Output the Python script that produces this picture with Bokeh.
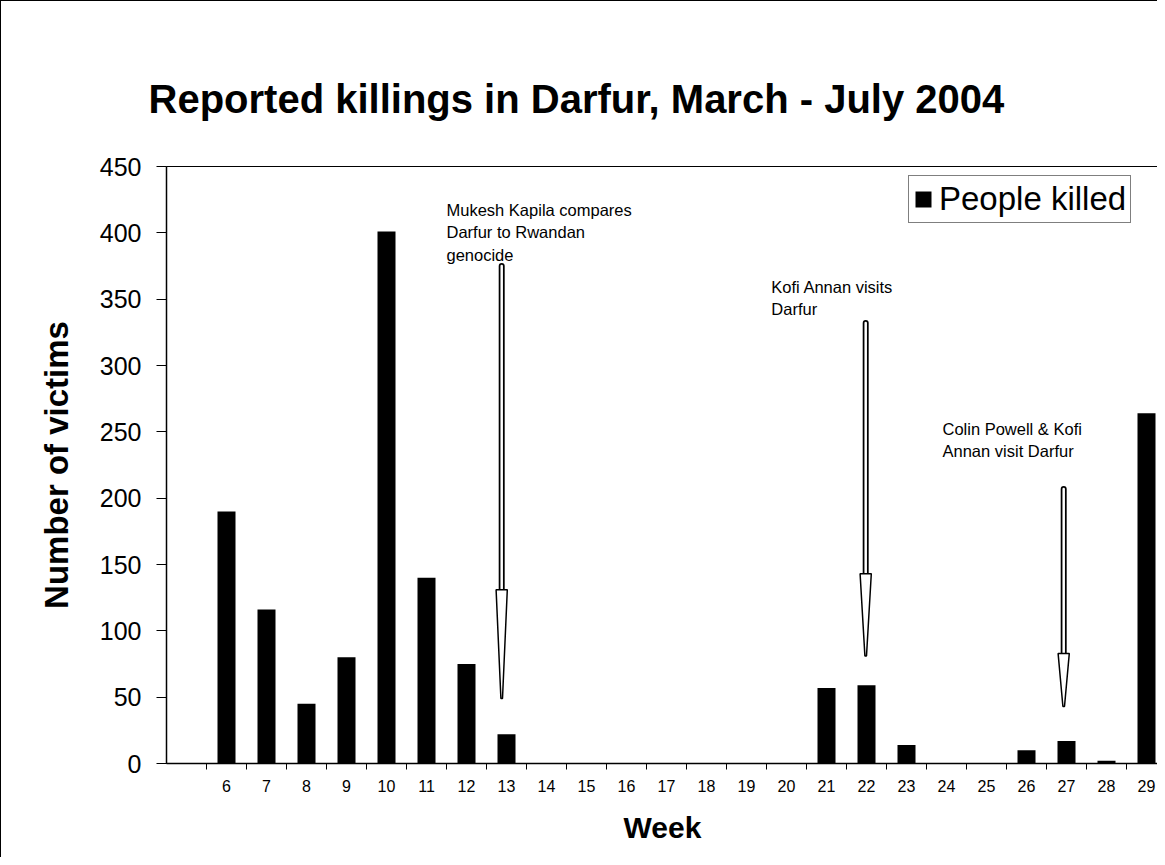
from bokeh.plotting import figure
from bokeh.models import FixedTicker, Range1d, ColumnDataSource
from bokeh.core.properties import value
from bokeh.embed import file_html
from bokeh.resources import INLINE

# ---- data ----
weeks = list(range(6, 30))
killed = [190, 116, 45, 80, 401, 140, 75, 22,
          0, 0, 0, 0, 0, 0, 0,
          57, 59, 14, 0, 0, 10, 17, 2, 264]
week_labels = [str(w) for w in weeks]
y_ticks = [0, 50, 100, 150, 200, 250, 300, 350, 400, 450]

event_text = ["Mukesh Kapila compares\nDarfur to Rwandan\ngenocide",
              "Kofi Annan visits\nDarfur",
              "Colin Powell & Kofi\nAnnan visit Darfur"]
event_text_x = [11.5, 19.62, 23.9]
event_text_y = [424, 366, 259]
arrow_x = [12.88, 21.98, 26.93]
arrow_top = [375, 332, 207]
arrow_head = [131, 143, 83]
arrow_tip = [49, 81, 43]

FONT = "Liberation Sans"

p = figure(width=1157, height=857, output_backend="svg", toolbar_location=None,
           x_range=Range1d(4.5, 29.3), y_range=Range1d(0, 450),
           min_border_left=165, min_border_top=165, min_border_right=0,
           min_border_bottom=95)
p.styles = {"border-top": "1px solid black", "border-left": "1px solid black"}

p.title.text = "Reported killings in Darfur, March - July 2004"
p.title.text_font = FONT
p.title.text_font_size = "40px"
p.title.text_font_style = "bold"
p.title.text_color = "black"
p.title.align = "left"
p.title.offset = -18
p.title.standoff = 92

p.xgrid.visible = False
p.ygrid.visible = False
p.outline_line_color = "black"
p.outline_line_width = 1
p.background_fill_color = "white"
p.border_fill_color = "white"

src = ColumnDataSource(dict(x=weeks, top=killed))
p.vbar(x="x", top="top", width=0.45, source=src, fill_color="black",
       line_color=None, legend_label="People killed")

# arrows
shaft = ColumnDataSource(dict(x=arrow_x, y0=arrow_top, y1=arrow_head))
p.segment(x0="x", y0="y0", x1="x", y1="y1", source=shaft,
          line_color="black", line_width=6, line_cap="round")
p.segment(x0="x", y0="y0", x1="x", y1="y1", source=shaft,
          line_color="white", line_width=2.5, line_cap="round")
hx = [[ax - 0.14, ax + 0.14, ax + 0.02, ax - 0.02] for ax in arrow_x]
hy = [[h, h, t, t] for h, t in zip(arrow_head, arrow_tip)]
p.patches(xs=hx, ys=hy, fill_color="white", line_color="black", line_width=1.5)

p.text(x=event_text_x, y=event_text_y, text=event_text,
       text_font=value(FONT), text_font_size="16.5px", text_color="black",
       text_align="left", text_baseline="top", text_line_height=1.25)

# axes
xa = p.xaxis[0]
xa.ticker = FixedTicker(ticks=weeks, minor_ticks=[w - 0.5 for w in weeks])
xa.major_label_overrides = {w: l for w, l in zip(weeks, week_labels)}
xa.major_tick_out = 0
xa.major_tick_in = 0
xa.minor_tick_out = 6
xa.minor_tick_in = 0
xa.minor_tick_line_color = "black"
xa.axis_line_color = "black"
xa.axis_line_width = 1.5
xa.major_label_text_font = FONT
xa.major_label_text_font_size = "16px"
xa.major_label_text_color = "black"
xa.major_label_standoff = 10
xa.axis_label = "Week"
xa.axis_label_text_font = FONT
xa.axis_label_text_font_size = "30px"
xa.axis_label_text_font_style = "bold"
xa.axis_label_text_color = "black"
xa.axis_label_standoff = 16

ya = p.yaxis[0]
ya.ticker = FixedTicker(ticks=y_ticks, minor_ticks=[])
ya.major_tick_out = 10
ya.major_tick_in = 0
ya.major_tick_line_color = "black"
ya.axis_line_color = "black"
ya.axis_line_width = 1.5
ya.major_label_text_font = FONT
ya.major_label_text_font_size = "25px"
ya.major_label_text_color = "black"
ya.major_label_standoff = 15
ya.axis_label = "Number of victims"
ya.axis_label_text_font = FONT
ya.axis_label_text_font_size = "33px"
ya.axis_label_text_font_style = "bold"
ya.axis_label_text_color = "black"
ya.axis_label_standoff = 22

lg = p.legend[0]
lg.location = (742, 540)
lg.label_text_font = FONT
lg.label_text_font_size = "33px"
lg.label_text_color = "black"
lg.glyph_width = 20
lg.glyph_height = 20
lg.padding = 4
lg.margin = 0
lg.label_standoff = 6
lg.border_line_color = "black"
lg.border_line_width = 1
lg.background_fill_alpha = 1

open("out.html", "w").write(file_html(p, INLINE))
